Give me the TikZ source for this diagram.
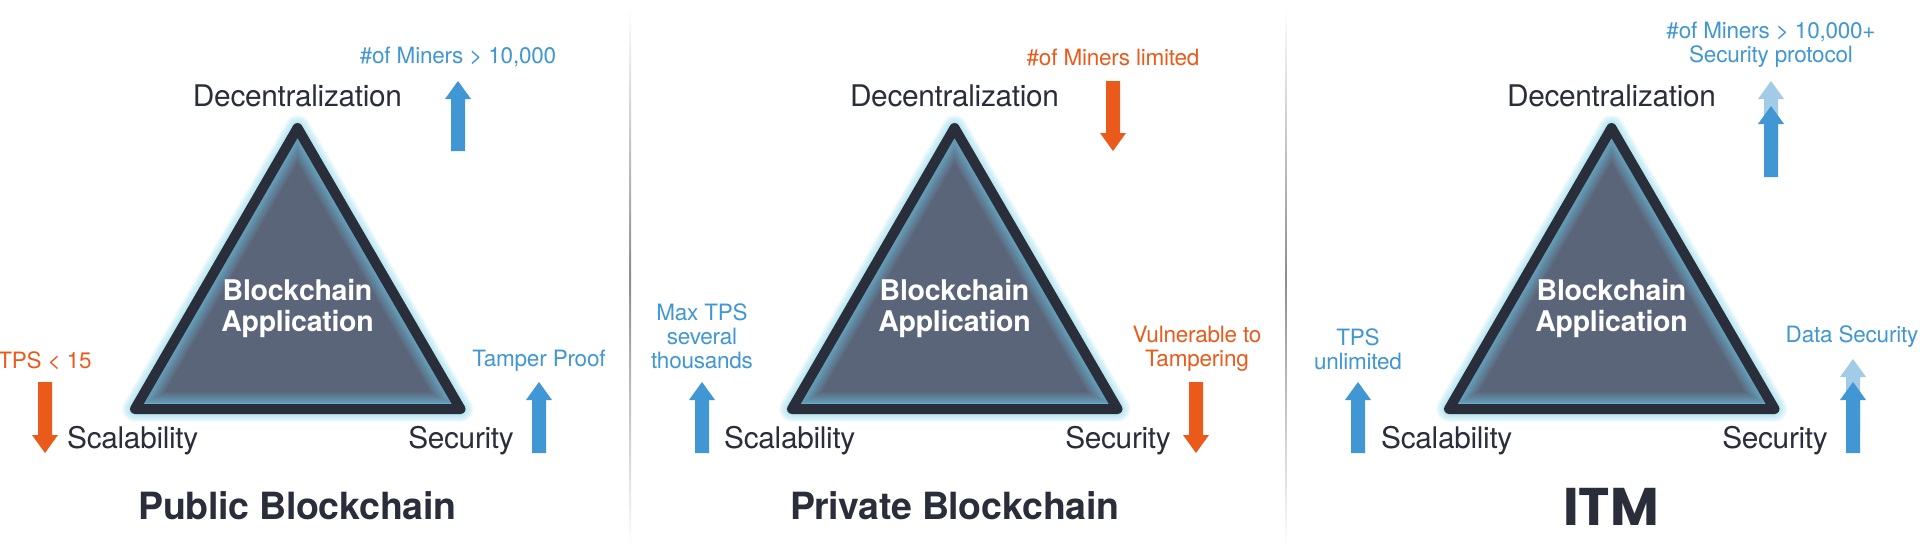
\documentclass[tikz,border=0pt]{standalone}
\usepackage{fontspec}
\setmainfont{TeX Gyre Heros}[LetterSpace=-1.0]
\newfontfamily\logofont{Poppins}
\definecolor{inkdark}{HTML}{2A2D3A}
\definecolor{slatefill}{HTML}{5B6579}
\definecolor{glowout}{HTML}{8ADCEE}
\definecolor{glowin}{HTML}{6FC4E4}
\definecolor{upblue}{HTML}{4097D3}
\definecolor{paleblue}{HTML}{A2CBE8}
\definecolor{downorange}{HTML}{EA5B1B}
\tikzset{
  corner/.style={font=\fontsize{29.8}{32}\selectfont, text=inkdark, inner sep=0pt, anchor=base},
  core/.style={font=\fontsize{28.5}{31}\selectfont\bfseries, text=white, inner sep=0pt, anchor=base},
  headline/.style={font=\fontsize{37.5}{40}\selectfont\bfseries, text=inkdark, inner sep=0pt, anchor=base},
  bluetag/.style={font=\fontsize{22.5}{24}\selectfont, text=upblue, inner sep=0pt, align=center, anchor=center},
  redtag/.style={font=\fontsize{22.5}{24}\selectfont, text=downorange, inner sep=0pt, align=center, anchor=center},
}
% block arrows: centre x, top y, bottom y, colour
\newcommand{\blockup}[4]{\fill[#4] (#1-7,#3) -- (#1+7,#3) -- (#1+7,#2+18) -- (#1+13,#2+18) -- (#1,#2) -- (#1-13,#2+18) -- (#1-7,#2+18) -- cycle;}
\newcommand{\blockdown}[4]{\fill[#4] (#1-7,#2) -- (#1+7,#2) -- (#1+7,#3-18) -- (#1+13,#3-18) -- (#1,#3) -- (#1-13,#3-18) -- (#1-7,#3-18) -- cycle;}
% triangle panel: x offset, prefix
\newcommand{\trianglepanel}[2]{
\begin{scope}[xshift=#1pt]
  \coordinate (#2a) at (297.5,128);
  \coordinate (#2b) at (135,409);
  \coordinate (#2c) at (460.5,409);
  \foreach \w in {26,24.5,23,21.5,20,18.5,17,15.5,14,12.5,11}
    \draw[glowout, line width=\w pt, line join=round, opacity=.07] (#2a) -- (#2b) -- (#2c) -- cycle;
  \fill[slatefill] (#2a) -- (#2b) -- (#2c) -- cycle;
  \begin{scope}
    \clip (#2a) -- (#2b) -- (#2c) -- cycle;
    \foreach \w in {34,31,28,25,22,20,18,16,14,12}
      \draw[glowin, line width=\w pt, line join=round, opacity=.09] (#2a) -- (#2b) -- (#2c) -- cycle;
    \draw[glowin, line width=13pt, opacity=.4] (#2b) -- (#2c);
  \end{scope}
  \draw[inkdark, line width=10pt, line join=round] (#2a) -- (#2b) -- (#2c) -- cycle;
  \node[corner] (#2dec) at (297.5,106.5) {Decentralization};
  \node[core] (#2blk) at (297.5,300) {Blockchain};
  \node[core] (#2app) at (297.5,331) {Application};
\end{scope}}
\begin{document}
\begin{tikzpicture}[x=1pt,y=-1pt]
\useasboundingbox (0,0) rectangle (1920,557);
\fill[white] (0,0) rectangle (1920,557);
% separators
\shade[top color=white, bottom color=white, middle color=black!45] (629.5,8) rectangle (631,548);
\shade[top color=white, bottom color=white, middle color=black!45] (1285,8) rectangle (1286.5,548);
\trianglepanel{0}{p}
\trianglepanel{657}{q}
\trianglepanel{1314}{r}
% panel 1
\node[corner, anchor=base west] (pscal) at (67,448) {Scalability};
\node[corner, anchor=base east] (psec) at (514,448) {Security};
\node[headline] (ptitle) at (297.5,519) {Public Blockchain};
\node[bluetag] (pminer) at (458,57) {\#of Miners > 10,000};
\node[redtag] (ptps) at (45,361) {TPS < 15};
\node[bluetag] (ptamp) at (539,361) {Tamper Proof};
\blockup{458}{81}{151}{upblue}
\blockdown{45}{382}{453}{downorange}
\blockup{539}{382}{453}{upblue}
% panel 2
\node[corner, anchor=base west] (qscal) at (724,448) {Scalability};
\node[corner, anchor=base east] (qsec) at (1171,448) {Security};
\node[headline] (qtitle) at (954.5,519) {Private Blockchain};
\node[redtag] (qminer) at (1113,57) {\#of Miners limited};
\node[bluetag] (qmax) at (702,336) {Max TPS\\several\\thousands};
\node[redtag] (qvul) at (1197,349) {Vulnerable to\\Tampering};
\blockdown{1113}{81}{151}{downorange}
\blockup{702}{382}{453}{upblue}
\blockdown{1196}{382}{453}{downorange}
% panel 3
\node[corner, anchor=base west] (rscal) at (1381,448) {Scalability};
\node[corner, anchor=base east] (rsec) at (1828,448) {Security};
\node[font=\fontsize{53}{54}\selectfont\logofont\bfseries, text=inkdark, inner sep=0pt, anchor=base] (rtitle) at (1611,525) {ITM};
\node[bluetag] (rminer) at (1771,45) {\#of Miners > 10,000+\\Security protocol};
\node[bluetag] (rtps) at (1358,349) {TPS\\unlimited};
\node[bluetag] (rdata) at (1852,337) {Data Security};
\blockup{1771}{81}{151}{paleblue}
\blockup{1771}{106}{177}{upblue}
\blockup{1358}{382}{453}{upblue}
\blockup{1853}{359}{430}{paleblue}
\blockup{1853}{382}{453}{upblue}
\end{tikzpicture}
\end{document}
